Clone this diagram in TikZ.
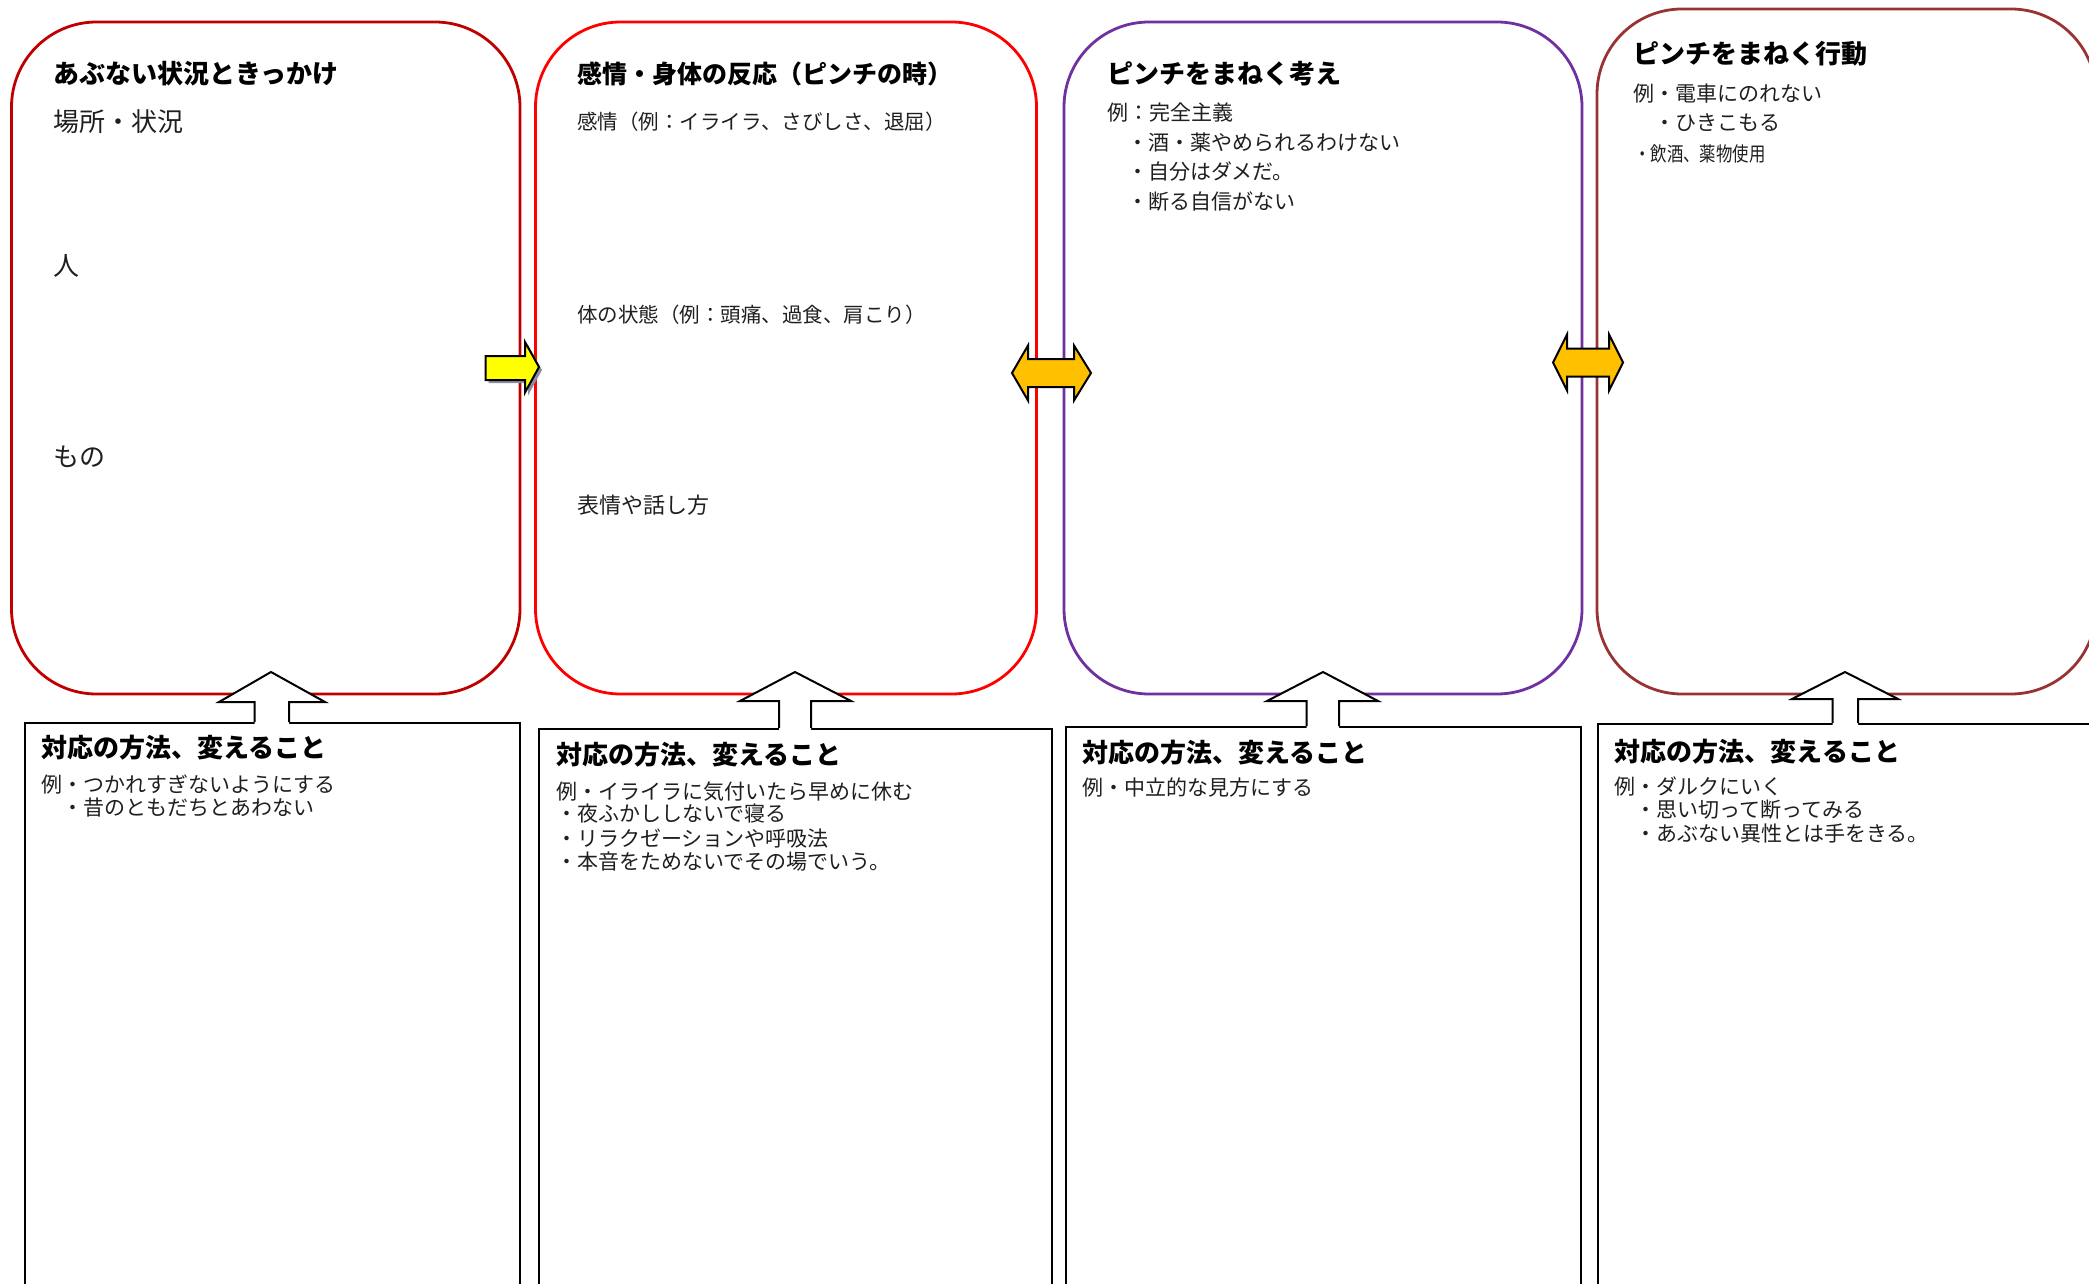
\documentclass[tikz,border=0pt]{standalone}
\usepackage{fontspec}
\newfontfamily\jp{Noto Sans CJK JP}
\definecolor{cA}{HTML}{C00000}
\definecolor{cB}{HTML}{FF0000}
\definecolor{cC}{HTML}{7030A0}
\definecolor{cD}{HTML}{993333}
\definecolor{txt}{HTML}{1F1F1F}
\definecolor{orng}{HTML}{FFC000}
\definecolor{yel}{HTML}{FFFF00}
\definecolor{shad}{HTML}{8C8CA6}
\begin{document}
\begin{tikzpicture}[x=1pt,y=-1pt,
  topbox/.style={draw=#1, line width=2.8pt, rounded corners=85pt, inner sep=0pt},
  lowbox/.style={draw=black, line width=2.2pt, inner sep=0pt, anchor=north west},
  ttl/.style={anchor=west, inner sep=0pt, text=black, font=\jp\bfseries\fontsize{#1}{#1}\selectfont},
  ttl/.default=26,
  bd/.style={anchor=west, inner sep=0pt, text=txt, font=\jp\fontsize{#1}{#1}\selectfont},
  bd/.default=21,
  blk/.style={draw=black, line width=2pt, line join=miter},
]
\useasboundingbox (0,0) rectangle (2089,1284);
\fill[white] (0,0) rectangle (2089,1284);

% top boxes
\node[topbox=cA, minimum width=508.5pt, minimum height=672pt] (T1) at (265.75,358) {};
\node[topbox=cB, minimum width=501pt, minimum height=672pt] (T2) at (786,358) {};
\node[topbox=cC, minimum width=518pt, minimum height=672pt] (T3) at (1323,358) {};
\node[topbox=cD, minimum width=499pt, minimum height=685pt] (T4) at (1846.5,351.5) {};

% bottom boxes
\node[lowbox, minimum width=495.5pt, minimum height=600pt] (B1) at (23.5,722) {};
\node[lowbox, minimum width=513pt, minimum height=600pt] (B2) at (538,728) {};
\node[lowbox, minimum width=515.5pt, minimum height=600pt] (B3) at (1064.5,726) {};
\node[lowbox, minimum width=520pt, minimum height=600pt] (B4) at (1597,723) {};

% up arrows
\fill[white] (271,672) -- (325,702) -- (289,702) -- (289,725) -- (254.5,725) -- (254.5,702) -- (219,702) -- cycle;
\draw[blk] (254.5,722) -- (254.5,702) -- (219,702) -- (271,672) -- (325,702) -- (289,702) -- (289,722);
\fill[white] (795,672) -- (851,701) -- (811,701) -- (811,731) -- (779,731) -- (779,701) -- (740,701) -- cycle;
\draw[blk] (779,728) -- (779,701) -- (740,701) -- (795,672) -- (851,701) -- (811,701) -- (811,728);
\fill[white] (1323,672) -- (1378,701) -- (1339,701) -- (1339,729) -- (1306.5,729) -- (1306.5,701) -- (1267,701) -- cycle;
\draw[blk] (1306.5,726) -- (1306.5,701) -- (1267,701) -- (1323,672) -- (1378,701) -- (1339,701) -- (1339,726);
\fill[white] (1845,672) -- (1898,699) -- (1858,699) -- (1858,726) -- (1832.6,726) -- (1832.6,699) -- (1792,699) -- cycle;
\draw[blk] (1832.6,723) -- (1832.6,699) -- (1792,699) -- (1845,672) -- (1898,699) -- (1858,699) -- (1858,723);

% yellow arrow with shadow
\fill[shad] (488.5,359) -- (528,359) -- (528,345) -- (542,370) -- (528,395.5) -- (528,383) -- (488.5,383) -- cycle;
\filldraw[blk, fill=yel] (485.5,356) -- (525,356) -- (525,342) -- (539,367) -- (525,392.5) -- (525,380) -- (485.5,380) -- cycle;

% double arrows
\filldraw[blk, fill=orng] (1012,373) -- (1028,345.5) -- (1028,359) -- (1074,359) -- (1074,345.5) -- (1091,373) -- (1074,400.5) -- (1074,387) -- (1028,387) -- (1028,400.5) -- cycle;
\filldraw[blk, fill=orng] (1553,362.5) -- (1567,334.5) -- (1567,348.5) -- (1609,348.5) -- (1609,334.5) -- (1623,362.5) -- (1609,390.5) -- (1609,376.5) -- (1567,376.5) -- (1567,390.5) -- cycle;

% box 1 texts
\node[ttl] (t1) at (53,73.5) {あぶない状況ときっかけ};
\node[bd=26] (t1a) at (53,121.7) {場所・状況};
\node[bd=26] (t1b) at (53,266) {人};
\node[bd=26] (t1c) at (53,457) {もの};

% box 2 texts
\node[ttl=25] (t2) at (577,73.5) {感情・身体の反応（ピンチの時）};
\node[bd=20.5] (t2a) at (577,121.7) {感情（例：イライラ、さびしさ、退屈）};
\node[bd=20.5] (t2b) at (577,314.5) {体の状態（例：頭痛、過食、肩こり）};
\node[bd=22] (t2c) at (577,505) {表情や話し方};

% box 3 texts
\node[ttl] (t3) at (1107,73.5) {ピンチをまねく考え};
\node[bd] (t3a) at (1107,112.5) {例：完全主義};
\node[bd] (t3b) at (1127,142.3) {・酒・薬やめられるわけない};
\node[bd] (t3c) at (1127,172) {・自分はダメだ。};
\node[bd] (t3d) at (1127,202) {・断る自信がない};

% box 4 texts
\node[ttl] (t4) at (1633,54) {ピンチをまねく行動};
\node[bd] (t4a) at (1633,94) {例・電車にのれない};
\node[bd] (t4b) at (1654,123) {・ひきこもる};
\node[bd=20] (t4c) at (1634,154) {\scalebox{0.82}[1]{・飲酒、薬物使用}};

% bottom texts
\node[ttl] (b1) at (41.5,748) {対応の方法、変えること};
\node[bd] (b1a) at (41.5,785) {例・つかれすぎないようにする};
\node[bd] (b1b) at (62,808) {・昔のともだちとあわない};

\node[ttl] (b2) at (556,755) {対応の方法、変えること};
\node[bd] (b2a) at (556,791.7) {例・イライラに気付いたら早めに休む};
\node[bd] (b2b) at (556,814) {・夜ふかししないで寝る};
\node[bd] (b2c) at (556,839) {・リラクゼーションや呼吸法};
\node[bd] (b2d) at (556,861.7) {・本音をためないでその場でいう。};

\node[ttl] (b3) at (1082,753) {対応の方法、変えること};
\node[bd] (b3a) at (1082,788) {例・中立的な見方にする};

\node[ttl] (b4) at (1614.6,751.7) {対応の方法、変えること};
\node[bd] (b4a) at (1614.6,786.7) {例・ダルクにいく};
\node[bd] (b4b) at (1635,810) {・思い切って断ってみる};
\node[bd] (b4c) at (1635,834) {・あぶない異性とは手をきる。};
\end{tikzpicture}
\end{document}
